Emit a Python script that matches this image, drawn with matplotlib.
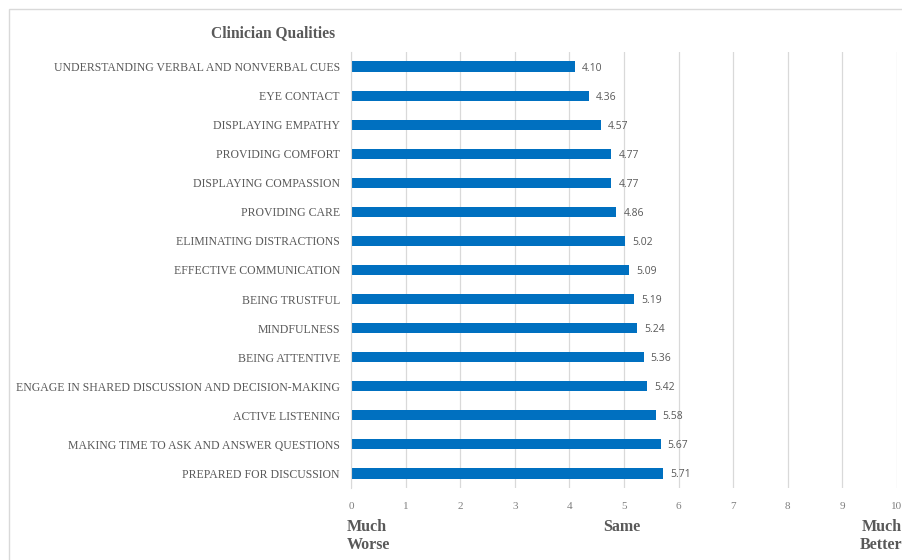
import matplotlib.pyplot as plt
from matplotlib.patches import Rectangle

# data, top to bottom as in the figure
qualities = [
    "UNDERSTANDING VERBAL AND NONVERBAL CUES",
    "EYE CONTACT",
    "DISPLAYING EMPATHY",
    "PROVIDING COMFORT",
    "DISPLAYING COMPASSION",
    "PROVIDING CARE",
    "ELIMINATING DISTRACTIONS",
    "EFFECTIVE COMMUNICATION",
    "BEING TRUSTFUL",
    "MINDFULNESS",
    "BEING ATTENTIVE",
    "ENGAGE IN SHARED DISCUSSION AND DECISION-MAKING",
    "ACTIVE LISTENING",
    "MAKING TIME TO ASK AND ANSWER QUESTIONS",
    "PREPARED FOR DISCUSSION",
]
scores = [4.10, 4.36, 4.57, 4.77, 4.77, 4.86, 5.02, 5.09, 5.19, 5.24,
          5.36, 5.42, 5.58, 5.67, 5.71]
x_ticks = list(range(0, 11))

BLUE = "#0070C0"
GREY = "#595959"
SERIF = ["Liberation Serif", "DejaVu Serif"]

fig = plt.figure(figsize=(9.03, 5.6), dpi=100)
fig.patches.append(Rectangle((9 / 903, -0.1), 1.2, 1 - 9 / 560 + 0.1,
                             transform=fig.transFigure, fill=False,
                             edgecolor="#d9d9d9", linewidth=1.0))
ax = fig.add_axes([351 / 903, 1 - 488 / 560, 546 / 903, 436 / 560])

ypos = list(range(len(qualities)))[::-1]
ax.barh(ypos, scores, height=0.35, color=BLUE)
for y, v in zip(ypos, scores):
    ax.text(v + 0.13, y, f"{v:.2f}", va="center_baseline", ha="left",
            fontsize=7.5, color=GREY, family="Open Sans")

ax.set_xlim(0, 10)
ax.set_ylim(-0.5, len(qualities) - 0.5)
ax.set_xticks(x_ticks)
ax.set_xticklabels([str(t) for t in x_ticks], family=SERIF, fontsize=8,
                   color="#7f7f7f")
ax.tick_params(axis="x", length=0, pad=10)
ax.set_yticks(ypos)
ax.set_yticklabels(qualities, family=SERIF, fontsize=8.5, color=GREY)
ax.tick_params(axis="y", length=0, pad=8)
ax.grid(axis="x", color="#d9d9d9", linewidth=0.9)
ax.set_axisbelow(True)
for side in ["top", "right", "bottom"]:
    ax.spines[side].set_visible(False)
ax.spines["left"].set_color("#d9d9d9")

fig.text(335 / 903, 1 - 33 / 560, "Clinician Qualities", ha="right",
         va="center", family=SERIF, fontsize=11.2, fontweight="bold",
         color=GREY)
bold = dict(family=SERIF, fontsize=11.5, fontweight="bold", color=GREY,
            va="center", linespacing=1.15)
fig.text(347 / 903, 1 - 536 / 560, "Much\nWorse", ha="left", **bold)
fig.text(622 / 903, 1 - 527 / 560, "Same", ha="center", **bold)
fig.text(902 / 903, 1 - 536 / 560, "Much\nBetter", ha="right", **bold)

fig.savefig("out.png", dpi=100)
